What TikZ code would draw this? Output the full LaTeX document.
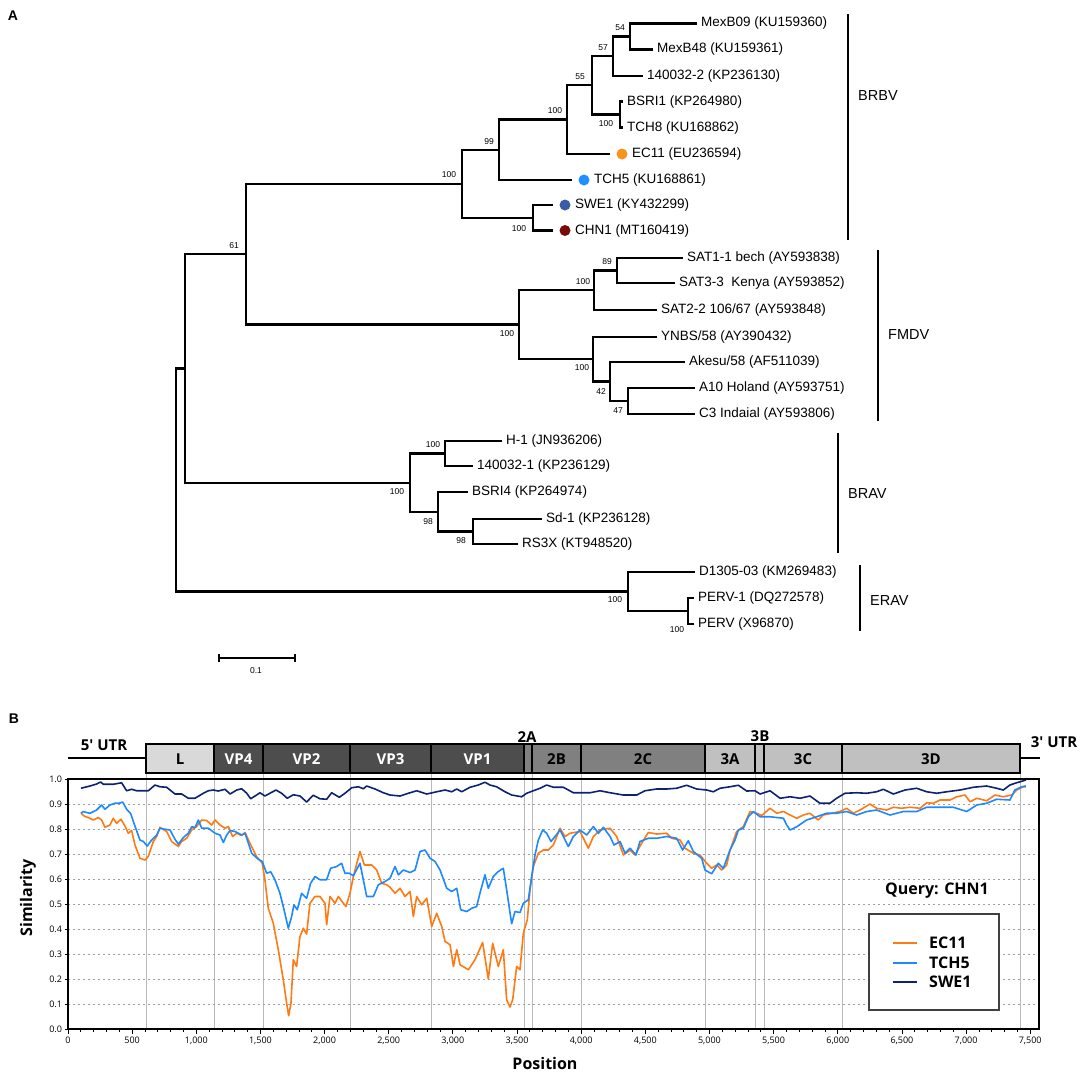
\documentclass[tikz,border=0pt]{standalone}
\usepackage{fontspec}
\setmainfont{Liberation Sans}
\newfontfamily\plotfont{Open Sans}
\definecolor{ecline}{HTML}{FF7A12}
\definecolor{tchline}{HTML}{1E88FF}
\definecolor{sweline}{HTML}{0B2370}
\definecolor{ecdot}{HTML}{F7931E}
\definecolor{tchdot}{HTML}{1E90FF}
\definecolor{swedot}{HTML}{3A5BA6}
\definecolor{chndot}{HTML}{7A0A0A}
\definecolor{segL}{HTML}{D9D9D9}
\definecolor{segVP}{HTML}{4D4D4D}
\definecolor{segP2}{HTML}{808080}
\definecolor{segP3}{HTML}{C0C0C0}

\begin{document}
\begin{tikzpicture}[x=1pt,y=-1pt]
\tikzset{branch/.style={draw=black,line width=2.7pt},
  boot/.style={font=\fontsize{8.5}{9}\selectfont,inner sep=0pt},
  tiplab/.style={anchor=west,font=\fontsize{13.5}{14}\selectfont,inner sep=0pt},
  clade/.style={anchor=west,font=\fontsize{14.5}{15}\selectfont,inner sep=0pt},
  tipdot/.style={circle,fill=#1,inner sep=0pt,minimum size=11pt},
  seg/.style={draw=black,line width=2pt},
  seglab/.style={font=\plotfont\bfseries\fontsize{15}{15}\selectfont,inner sep=0pt},
  vline/.style={draw=gray!55,line width=1pt},
  hgrid/.style={draw=gray!75,line width=1pt,dash pattern=on 2pt off 3pt},
  ticklab/.style={font=\plotfont\fontsize{9}{9}\selectfont,inner sep=0pt},
  axlab/.style={font=\plotfont\bfseries\fontsize{16}{16}\selectfont,inner sep=0pt},
  simline/.style={line width=1.6pt,line join=round}}
\useasboundingbox (0,0) rectangle (1084,1072);

\node[font=\bfseries\fontsize{14}{14}\selectfont] (pA) at (13,16) {A};

\foreach \n/\x/\y/\t in {t1/697/23.5/{MexB09 (KU159360)}, t2/653/49.5/{MexB48 (KU159361)},
  t3/643/76/{140032-2 (KP236130)}, t4/623/101.5/{BSRI1 (KP264980)}, t5/623/127.5/{TCH8 (KU168862)},
  t10/683/258/{SAT1-1 bech (AY593838)}, t11/675/283/{SAT3-3\ \ Kenya (AY593852)},
  t12/657/310/{SAT2-2 106/67 (AY593848)}, t13/657/337/{YNBS/58 (AY390432)},
  t14/685/362/{Akesu/58 (AF511039)}, t15/695/388/{A10 Holand (AY593751)},
  t16/695/414/{C3 Indaial (AY593806)}, t17/502/441/{H-1 (JN936206)}, t18/473/466/{140032-1 (KP236129)},
  t19/468/492/{BSRI4 (KP264974)}, t20/542/519/{Sd-1 (KP236128)}, t21/518/544/{RS3X (KT948520)},
  t22/695/572/{D1305-03 (KM269483)}, t23/694/598/{PERV-1 (DQ272578)}, t24/694/624/{PERV (X96870)}}{%
  \coordinate (\n) at (\x,\y);
  \node[tiplab] (l\n) at (\x+4,\y) {\t};
}
\foreach \n/\x/\y/\c/\t in {t6/610/154/ecdot/{EC11 (EU236594)}, t7/572/180/tchdot/{TCH5 (KU168861)},
  t8/553/205/swedot/{SWE1 (KY432299)}, t9/553/230.5/chndot/{CHN1 (MT160419)}}{%
  \coordinate (\n) at (\x,\y);
  \node[tipdot=\c] (d\n) at (\x+12,\y) {};
  \node[tiplab] (l\n) at (\x+22,\y) {\t};
}

\foreach \n/\x/\y in {n54/630/36.5, n57/613/56, nts/620/114.5, n55/592/85, nec/567/119.5,
  n99/499/150, nsw/533/218, nbrbv/462/184, n89/617/270.5, nsat/594/290, n47/628/401,
  n42/610/381.5, nyn/593/359, nfmdv/519/324.5, n61/246/254, nh1/445/453.5, nsd/473/531.5,
  n98/438/512, nbrav/410/483, nin/185/368.5, npv/688/611, nerav/628/591.5, root/176/480}
  \coordinate (\n) at (\x,\y);

\foreach \a/\n/\b in {t1/n54/t2, n54/n57/t3, t4/nts/t5, n57/n55/nts, n55/nec/t6, nec/n99/t7,
  t8/nsw/t9, n99/nbrbv/nsw, t10/n89/t11, n89/nsat/t12, t15/n47/t16, t14/n42/n47, t13/nyn/n42,
  nsat/nfmdv/nyn, nbrbv/n61/nfmdv, t17/nh1/t18, t20/nsd/t21, t19/n98/nsd, nh1/nbrav/n98,
  n61/nin/nbrav, t23/npv/t24, t22/nerav/npv, nin/root/nerav}
  \draw[branch] (\a) -| (\n) |- (\b);

\foreach \x/\y/\v [count=\i] in {620/28/54, 603/48/57, 580/77/55, 555/111/100, 489/142/99,
  449/175/100, 606/124/100, 519/229/100, 234/246/61, 507/334/100, 583/282/100, 607/262/89,
  582/368/100, 601/392/42, 618/411/47, 433/445/100, 397/492/100, 428/522/98, 461/541/98,
  615/600/100, 677/630/100}
  \node[boot] (b\i) at (\x,\y) {\v};

\foreach \x/\ya/\yb/\yl/\t in {848/14/240/96/BRBV, 878/250/421/335/FMDV, 838/433/553/494/BRAV, 860/565/631/600/ERAV}{%
  \draw[line width=2.4pt] (\x,\ya) -- (\x,\yb);
  \node[clade] (c\t) at (\x+10,\yl) {\t};
}

\coordinate (sa) at (219,658);
\coordinate (sb) at (295,658);
\draw[line width=1.2pt] (sa) -- (sb);
\draw[line width=1.2pt] (219,654) -- (219,662) (295,654) -- (295,662);
\node[boot] (sl) at (256,671) {0.1};

\node[font=\bfseries\fontsize{14}{14}\selectfont] (pB) at (14,719) {B};

\foreach \x in {146,214,263,350,431,524,532,581,705,755,764,842,1020}
  \draw[vline] (\x,773) -- (\x,1029);

\draw[line width=2pt] (68,758) -- (146,758);
\draw[line width=2pt] (1020,758) -- (1040,758);
\node[seglab] (u5) at (104,745) {5\textquotesingle{} UTR};
\node[seglab] (u3) at (1054,742) {3\textquotesingle{} UTR};
\foreach \xa/\xb/\c/\t/\tc [count=\i] in {146/214/segL/L/black, 214/263/segVP/VP4/white,
  263/350/segVP/VP2/white, 350/431/segVP/VP3/white, 431/524/segVP/VP1/white,
  532/581/segP2/2B/black, 581/705/segP2/2C/black, 705/755/segP3/3A/black,
  764/842/segP3/3C/black, 842/1020/segP3/3D/black}{%
  \draw[seg,fill=\c] (\xa,744) rectangle (\xb,773);
  \node[seglab,text=\tc] (g\i) at ({(\xa+\xb)/2},759) {\t};
}
\draw[seg,fill=segP2] (524,744) rectangle (532,773);
\draw[seg,fill=segP3] (755,744) rectangle (764,773);
\draw[line width=2.6pt] (146,744) rectangle (1020,773);
\node[seglab] (g2a) at (527,737) {2A};
\node[seglab] (g3b) at (760,736) {3B};

\begin{scope}[shift={(68,1029)},x=0.1283pt,y=250pt]
\foreach \v in {1,...,9}
  \draw[hgrid] (0,\v/10) -- (7568,\v/10);
\foreach \p in {0,100,...,7500}
  \draw[line width=0.8pt] (\p,0) -- (\p,-0.012);
\foreach \p/\s in {0/0,500/500,1000/{1,000},1500/{1,500},2000/{2,000},2500/{2,500},3000/{3,000},
  3500/{3,500},4000/{4,000},4500/{4,500},5000/{5,000},5500/{5,500},6000/{6,000},6500/{6,500},
  7000/{7,000},7500/{7,500}}{%
  \draw[line width=0.8pt] (\p,0) -- (\p,-0.02);
  \node[ticklab,anchor=north] (x\p) at (\p,-0.032) {\s};
}
\foreach \v in {0,...,9}{%
  \draw[line width=0.8pt] (0,\v/10) -- (-25,\v/10);
  \node[ticklab,anchor=east] (y\v) at (-45,\v/10) {0.\v};
}
\draw[line width=0.8pt] (0,1) -- (-25,1);
\node[ticklab,anchor=east] (y10) at (-45,1) {1.0};

\draw[simline,ecline] plot coordinates {(101,0.863)(132,0.850)(158,0.846)(197,0.836)(236,0.846)(262,0.836)(288,0.807)(327,0.816)(353,0.843)(379,0.823)(413,0.839)(444,0.812)(470,0.783)(496,0.794)(522,0.736)(561,0.683)(600,0.676)(626,0.690)(665,0.750)(691,0.770)(717,0.807)(769,0.790)(808,0.750)(860,0.730)(886,0.750)(925,0.763)(964,0.796)(1003,0.810)(1042,0.836)(1081,0.834)(1120,0.816)(1146,0.836)(1185,0.816)(1224,0.803)(1250,0.810)(1283,0.770)(1315,0.783)(1354,0.774)(1380,0.786)(1418,0.743)(1470,0.690)(1514,0.663)(1535,0.597)(1561,0.483)(1600,0.423)(1639,0.317)(1678,0.197)(1704,0.104)(1720,0.053)(1738,0.104)(1756,0.277)(1782,0.250)(1808,0.370)(1834,0.403)(1860,0.380)(1886,0.503)(1925,0.530)(1964,0.530)(2003,0.503)(2016,0.417)(2042,0.530)(2081,0.503)(2107,0.530)(2146,0.503)(2167,0.490)(2198,0.543)(2224,0.610)(2276,0.710)(2310,0.656)(2367,0.656)(2406,0.636)(2445,0.583)(2484,0.577)(2510,0.567)(2549,0.543)(2588,0.563)(2627,0.530)(2666,0.550)(2692,0.450)(2718,0.530)(2757,0.497)(2796,0.523)(2835,0.410)(2874,0.463)(2913,0.410)(2939,0.350)(2978,0.337)(3004,0.250)(3030,0.317)(3056,0.257)(3121,0.237)(3172,0.277)(3232,0.346)(3276,0.200)(3310,0.343)(3354,0.250)(3393,0.317)(3419,0.117)(3445,0.088)(3466,0.117)(3497,0.250)(3523,0.237)(3549,0.383)(3580,0.437)(3601,0.557)(3627,0.650)(3666,0.703)(3705,0.716)(3744,0.716)(3783,0.736)(3835,0.803)(3874,0.770)(3913,0.783)(3991,0.790)(4056,0.723)(4095,0.770)(4147,0.796)(4225,0.803)(4277,0.770)(4329,0.696)(4381,0.716)(4420,0.696)(4471,0.743)(4523,0.786)(4588,0.780)(4666,0.783)(4705,0.763)(4770,0.756)(4809,0.723)(4874,0.703)(4926,0.696)(4978,0.663)(5017,0.643)(5056,0.656)(5095,0.636)(5134,0.656)(5160,0.716)(5212,0.790)(5264,0.810)(5316,0.870)(5368,0.863)(5407,0.854)(5472,0.883)(5524,0.863)(5576,0.870)(5628,0.856)(5680,0.843)(5731,0.856)(5783,0.863)(5848,0.836)(5887,0.856)(5952,0.863)(6017,0.870)(6069,0.883)(6121,0.863)(6173,0.876)(6251,0.900)(6303,0.883)(6381,0.876)(6433,0.887)(6498,0.883)(6563,0.887)(6641,0.883)(6693,0.905)(6745,0.903)(6797,0.916)(6875,0.916)(6927,0.929)(6992,0.936)(7031,0.909)(7083,0.923)(7160,0.913)(7225,0.936)(7290,0.929)(7355,0.936)(7394,0.956)(7446,0.969)(7467,0.969)};
\draw[simline,tchline] plot coordinates {(101,0.863)(119,0.870)(145,0.866)(171,0.863)(223,0.876)(262,0.896)(288,0.879)(327,0.896)(366,0.903)(400,0.903)(426,0.908)(457,0.879)(488,0.863)(514,0.823)(561,0.756)(587,0.750)(618,0.732)(652,0.756)(691,0.776)(717,0.803)(756,0.799)(795,0.796)(834,0.759)(860,0.739)(899,0.766)(938,0.783)(964,0.809)(990,0.806)(1016,0.836)(1042,0.803)(1094,0.803)(1146,0.783)(1185,0.776)(1211,0.746)(1237,0.776)(1263,0.794)(1302,0.790)(1354,0.776)(1380,0.783)(1432,0.703)(1483,0.679)(1514,0.670)(1548,0.623)(1580,0.629)(1613,0.597)(1652,0.543)(1684,0.477)(1717,0.403)(1743,0.450)(1761,0.497)(1787,0.477)(1821,0.543)(1860,0.523)(1891,0.583)(1925,0.610)(1964,0.597)(2016,0.597)(2047,0.643)(2094,0.650)(2133,0.663)(2159,0.623)(2193,0.623)(2224,0.613)(2276,0.663)(2328,0.530)(2380,0.530)(2419,0.577)(2471,0.590)(2510,0.603)(2549,0.650)(2575,0.617)(2614,0.636)(2666,0.626)(2705,0.636)(2744,0.710)(2783,0.716)(2822,0.683)(2861,0.670)(2900,0.636)(2952,0.563)(2991,0.550)(3030,0.563)(3061,0.477)(3108,0.470)(3147,0.483)(3185,0.490)(3211,0.543)(3250,0.617)(3276,0.563)(3315,0.610)(3354,0.630)(3393,0.643)(3419,0.557)(3458,0.421)(3484,0.470)(3523,0.466)(3549,0.503)(3588,0.517)(3614,0.610)(3640,0.696)(3666,0.756)(3700,0.796)(3731,0.783)(3765,0.750)(3796,0.770)(3835,0.796)(3861,0.770)(3900,0.730)(3939,0.770)(3991,0.796)(4043,0.776)(4095,0.810)(4134,0.783)(4173,0.807)(4225,0.770)(4256,0.736)(4303,0.750)(4342,0.703)(4381,0.723)(4427,0.696)(4458,0.750)(4523,0.763)(4588,0.763)(4666,0.770)(4744,0.763)(4791,0.716)(4835,0.753)(4874,0.710)(4939,0.683)(4965,0.636)(5017,0.621)(5069,0.663)(5108,0.643)(5160,0.716)(5199,0.756)(5225,0.796)(5264,0.803)(5303,0.849)(5342,0.870)(5394,0.849)(5472,0.849)(5576,0.843)(5602,0.816)(5628,0.796)(5680,0.809)(5757,0.836)(5835,0.849)(5913,0.863)(5991,0.863)(6069,0.870)(6147,0.856)(6225,0.870)(6303,0.876)(6407,0.856)(6511,0.870)(6615,0.870)(6693,0.887)(6797,0.887)(6901,0.887)(7005,0.870)(7083,0.896)(7160,0.903)(7238,0.919)(7342,0.916)(7381,0.956)(7433,0.969)(7467,0.972)};
\draw[simline,sweline] plot coordinates {(101,0.963)(171,0.972)(223,0.980)(255,0.988)(275,0.979)(353,0.979)(418,0.985)(457,0.953)(496,0.959)(535,0.953)(626,0.953)(678,0.976)(717,0.969)(769,0.967)(834,0.940)(886,0.940)(938,0.923)(990,0.923)(1055,0.943)(1094,0.953)(1133,0.956)(1172,0.952)(1224,0.959)(1263,0.940)(1315,0.956)(1354,0.961)(1393,0.943)(1424,0.921)(1470,0.936)(1496,0.945)(1535,0.932)(1574,0.943)(1621,0.956)(1665,0.943)(1709,0.923)(1756,0.937)(1808,0.932)(1860,0.908)(1912,0.935)(1964,0.921)(2016,0.919)(2055,0.945)(2115,0.927)(2159,0.943)(2211,0.965)(2263,0.969)(2302,0.961)(2328,0.972)(2393,0.960)(2458,0.945)(2510,0.936)(2588,0.932)(2653,0.943)(2718,0.953)(2796,0.940)(2874,0.949)(2939,0.956)(2991,0.949)(3030,0.960)(3069,0.949)(3134,0.967)(3198,0.976)(3250,0.987)(3289,0.976)(3341,0.969)(3406,0.949)(3458,0.936)(3536,0.929)(3575,0.943)(3627,0.953)(3679,0.963)(3731,0.976)(3783,0.967)(3861,0.967)(3939,0.945)(4069,0.945)(4147,0.953)(4225,0.945)(4329,0.936)(4433,0.936)(4497,0.953)(4588,0.960)(4666,0.960)(4744,0.963)(4822,0.975)(4900,0.960)(4978,0.956)(5030,0.949)(5082,0.963)(5160,0.969)(5225,0.975)(5290,0.952)(5355,0.953)(5394,0.940)(5472,0.953)(5550,0.923)(5628,0.929)(5706,0.923)(5783,0.932)(5861,0.903)(5939,0.903)(5991,0.923)(6056,0.943)(6147,0.945)(6225,0.943)(6303,0.949)(6355,0.959)(6433,0.940)(6524,0.956)(6615,0.963)(6693,0.949)(6771,0.943)(6849,0.949)(6953,0.956)(7057,0.967)(7160,0.972)(7238,0.963)(7290,0.956)(7342,0.976)(7394,0.985)(7467,0.996)};
\draw[line width=1.6pt] (0,0) rectangle (7568,1);
\end{scope}

\node[axlab,rotate=90] (ylab) at (28,898) {Similarity};
\node[axlab] (xlab) at (545,1063) {Position};
\node[axlab] (query) at (937,891) {Query: CHN1};
\draw[draw=black!75,line width=1.3pt,fill=white] (869,914) rectangle (999,1010);
\foreach \y/\c/\t [count=\i] in {943/ecline/EC11, 963/tchline/TCH5, 982/sweline/SWE1}{%
  \draw[\c,line width=1.6pt] (893,\y) -- (917,\y);
  \node[axlab,anchor=west] (k\i) at (929,\y) {\t};
}
\end{tikzpicture}
\end{document}
